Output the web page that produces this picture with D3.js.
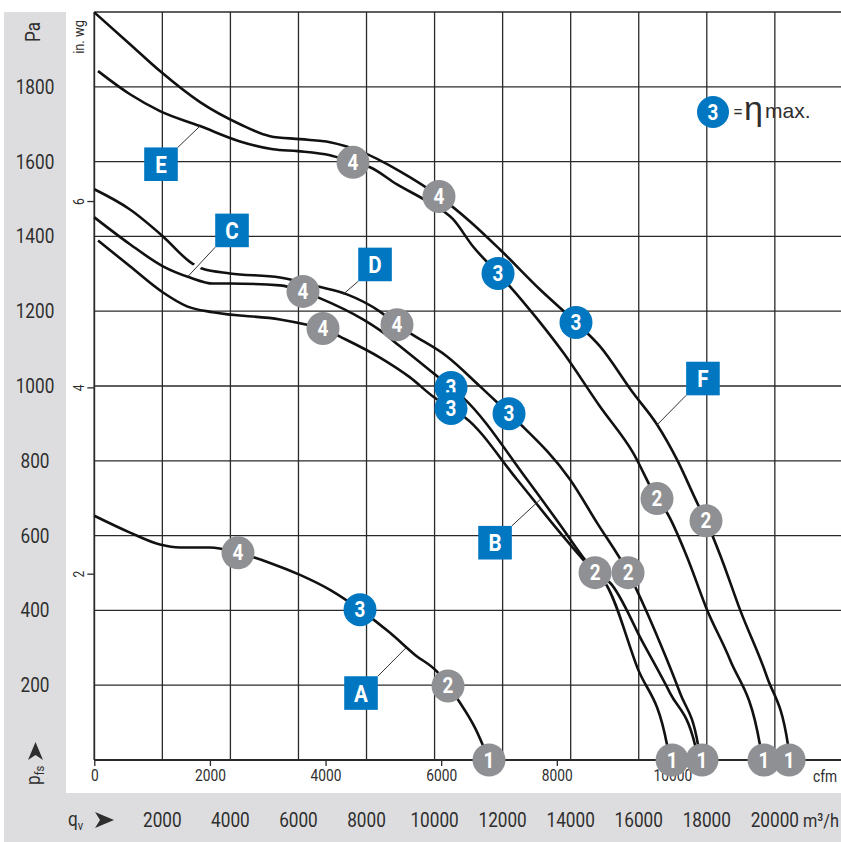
<!DOCTYPE html>
<html>
<head>
<meta charset="utf-8">
<script src="https://cdn.jsdelivr.net/npm/d3@7"></script>
<style>
  body { margin: 0; background: #fff; }
  text { font-family: "Liberation Sans Narrow", "Roboto", sans-serif; }
</style>
</head>
<body>
<div id="chart-area"></div>
<script>
const width = 841, height = 842;
const plot = {left: 94.3, right: 842.9, top: 12, bottom: 760};
const narrow = 0.86; // horizontal squeeze to mimic the condensed face

// tick values
const flowTicks = [2000, 4000, 6000, 8000, 10000, 12000, 14000, 16000, 18000, 20000];
const cfmTicks = [0, 2000, 4000, 6000, 8000, 10000];
const paTicks = [200, 400, 600, 800, 1000, 1200, 1400, 1600, 1800];
const inwgTicks = [2, 4, 6];

// curves: [qv m³/h, pfs Pa]
const curveA = [[0, 653], [1049, 608], [1931, 576], [2519, 568], [3400, 568], [4223, 554],
  [5164, 527], [6045, 495], [6927, 455], [7809, 402], [8691, 340], [9426, 281],
  [10072, 236], [10395, 198], [10748, 153], [11189, 86], [11600, 0]];
const curveB = [[110, 1389], [1049, 1320], [2019, 1250], [2724, 1213], [3488, 1197],
  [5457, 1178], [6251, 1164], [6721, 1154], [7221, 1132], [8396, 1076], [9278, 1023],
  [9954, 972], [10483, 940], [10895, 916], [12423, 750], [13687, 608], [14716, 501],
  [15010, 474], [15951, 249], [16833, 40], [16892, 0]];
const curveC = [[0, 1451], [1049, 1379], [2019, 1320], [2812, 1290], [3488, 1274],
  [3988, 1274], [5457, 1269], [6133, 1253], [6574, 1237], [7897, 1178], [8485, 1143],
  [8984, 1106], [10013, 1031], [10483, 996], [10836, 969], [12717, 750], [13687, 629],
  [14422, 535], [14716, 501], [15157, 474], [16127, 313], [16921, 179], [17655, 40], [17714, 0]];
const curveD = [[0, 1526], [1049, 1472], [2019, 1400], [2871, 1328], [3165, 1314],
  [3988, 1301], [5457, 1290], [6574, 1266], [7426, 1245], [8396, 1199], [8896, 1164],
  [9337, 1138], [10366, 1079], [11336, 999], [12188, 926], [12600, 891], [13981, 750],
  [14775, 634], [15686, 501], [16626, 313], [17214, 179], [17743, 40], [17802, 0]];
const curveE = [[110, 1842], [1049, 1780], [1931, 1735], [3107, 1695], [4282, 1654],
  [5252, 1633], [5987, 1628], [6927, 1617], [7603, 1598], [8103, 1585], [8896, 1539],
  [9778, 1494], [10542, 1446], [11130, 1373], [11865, 1301], [12218, 1266], [13011, 1180],
  [13775, 1090], [14862, 945], [15831, 822], [16537, 699], [16831, 661], [17419, 543],
  [18006, 402], [18682, 268], [19564, 40], [19623, 0]];
const curveF = [[0, 1999], [1049, 1914], [1931, 1842], [3107, 1759], [4282, 1700],
  [5164, 1668], [6045, 1660], [6927, 1652], [7809, 1628], [8984, 1574], [10130, 1507],
  [11041, 1440], [11922, 1365], [13098, 1258], [14156, 1170], [14862, 1106], [15831, 982],
  [16537, 897], [17125, 803], [17742, 683], [17977, 640], [18447, 535], [18976, 402],
  [19770, 222], [20387, 40], [20446, 0]];
const curves = [curveA, curveB, curveC, curveD, curveE, curveF];

// operating point markers: [qv, pfs, number]
const markerPoints = [
  [4223, 554, 4], [7809, 402, 3], [10395, 198, 2], [11600, 0, 1],
  [6133, 1253, 4], [10483, 996, 3],
  [6721, 1154, 4], [10483, 940, 3], [14716, 501, 2], [16980, 0, 1],
  [8896, 1164, 4], [12188, 926, 3], [15686, 501, 2], [17860, 0, 1],
  [7603, 1598, 4], [11865, 1301, 3], [16537, 699, 2], [19682, 0, 1],
  [10130, 1507, 4], [14156, 1170, 3], [17977, 640, 2], [20420, 0, 1]
];

// curve letters, box centre and leader end
const letterNames = ["A", "B", "C", "D", "E", "F"];
const letterBoxes = [[7838, 179], [11777, 581], [4047, 1416], [8250, 1325], [1960, 1593], [17887, 1020]];
const letterTargets = [[9161, 300], [13099, 696], [2754, 1293], [7310, 1245], [3107, 1695], [16538, 896]];

const blue = "#0077c0", grey = "#8f9093", band = "#dddddf", ink = "#2e2e2e";

const svg = d3.select("#chart-area").append("svg")
  .attr("width", width)
  .attr("height", height);

// condensed text helper
function ctext(parent, px, py, str, size, anchor, rot) {
  return parent.append("text")
    .attr("transform", "translate(" + px + "," + py + ")" + (rot ? " rotate(" + rot + ")" : "") + " scale(" + narrow + ",1)")
    .attr("text-anchor", anchor || "start")
    .attr("font-size", size)
    .attr("fill", ink)
    .text(str);
}

// Scales
const x = d3.scaleLinear().domain([0, 22000]).range([plot.left, plot.right]);
const xCfm = d3.scaleLinear().domain([0, 22000 / 1.699]).range([plot.left, plot.right]);
const y = d3.scaleLinear().domain([0, 2000]).range([plot.bottom, plot.top]);
const yInwg = d3.scaleLinear().domain([0, 2000 / 249.09]).range([plot.bottom, plot.top]);

// grey bands
svg.append("rect").attr("x", 4).attr("y", 12).attr("width", 62).attr("height", 830).attr("fill", band);
svg.append("rect").attr("x", 4).attr("y", 793).attr("width", 837).attr("height", 49).attr("fill", band);

// grid
const grid = svg.append("g").attr("stroke", "#2a2a2a").attr("stroke-width", 1.3);
grid.selectAll(".vgrid").data(flowTicks).enter().append("line")
  .attr("x1", d => x(d)).attr("x2", d => x(d))
  .attr("y1", plot.top).attr("y2", plot.bottom);
grid.selectAll(".hgrid").data(paTicks.concat([2000])).enter().append("line")
  .attr("x1", plot.left).attr("x2", width)
  .attr("y1", d => y(d)).attr("y2", d => y(d));
grid.append("line").attr("x1", plot.left).attr("x2", plot.left)
  .attr("y1", plot.top).attr("y2", plot.bottom).attr("stroke-width", 1.8);
grid.append("line").attr("x1", plot.left).attr("x2", width)
  .attr("y1", plot.bottom).attr("y2", plot.bottom).attr("stroke-width", 1.8);

// Pa labels
const paG = svg.append("g");
paTicks.forEach(d => ctext(paG, 35, y(d) + 7, d, 20, "middle"));
ctext(svg, 40, 32, "Pa", 20, "middle", -90);

// p_fs with arrow
svg.append("path").attr("d", "M35.5,742 L43,760 L35.5,755 L28,760 Z").attr("fill", ink);
const pfs = ctext(svg, 40, 785, "", 20, "start", -90);
pfs.append("tspan").text("p");
pfs.append("tspan").attr("font-size", 13).attr("dy", 4).text("fs");

// in. wg axis
const yInwgAxis = d3.axisLeft(yInwg).tickValues(inwgTicks).tickSize(7).tickFormat(d3.format("d"));
const inwgG = svg.append("g").attr("transform", "translate(" + plot.left + ",0)").call(yInwgAxis);
inwgG.select(".domain").remove();
inwgG.selectAll("line").attr("stroke", "#2a2a2a").attr("stroke-width", 1.3);
inwgG.selectAll("text").attr("x", null).attr("dy", null)
  .attr("transform", "translate(-10,0) rotate(-90) scale(" + narrow + ",1)")
  .attr("text-anchor", "middle").attr("font-size", 14).attr("fill", ink)
  .style("font-family", "'Liberation Sans Narrow', 'Roboto', sans-serif");
ctext(svg, 84, 37, "in. wg", 15, "middle", -90);

// cfm axis
const cfmAxis = d3.axisBottom(xCfm).tickValues(cfmTicks).tickSize(6).tickFormat(d3.format("d"));
const cfmG = svg.append("g").attr("transform", "translate(0," + plot.bottom + ")").call(cfmAxis);
cfmG.select(".domain").remove();
cfmG.selectAll("line").attr("stroke", "#2a2a2a").attr("stroke-width", 1.3);
cfmG.selectAll("text").attr("y", 10).attr("dy", "0.71em").attr("font-size", 16).attr("fill", ink)
  .attr("transform", "scale(" + narrow + ",1)")
  .style("font-family", "'Liberation Sans Narrow', 'Roboto', sans-serif");
ctext(svg, 813, 782, "cfm", 16, "start");

// m³/h labels
const flowG = svg.append("g");
flowTicks.forEach(d => ctext(flowG, x(d), 827, d, 20, "middle"));
ctext(svg, 803, 827, "m³/h", 19, "start");
const qv = ctext(svg, 68, 826, "", 20, "start");
qv.append("tspan").text("q");
qv.append("tspan").attr("font-size", 13).attr("dy", 4).text("v");
svg.append("path").attr("d", "M114,820 L95,812 L100,820 L95,828 Z").attr("fill", ink);

// curves
const line = d3.line()
  .x(d => x(d[0]))
  .y(d => y(d[1]))
  .curve(d3.curveMonotoneX);

svg.append("g").selectAll("path").data(curves).enter().append("path")
  .attr("d", line)
  .attr("fill", "none")
  .attr("stroke", "#111")
  .attr("stroke-width", 2.6);

// letter boxes with leaders
const half = 16.8;
letterNames.forEach((name, i) => {
  const cx = x(letterBoxes[i][0]), cy = y(letterBoxes[i][1]);
  const tx = x(letterTargets[i][0]), ty = y(letterTargets[i][1]);
  const sx = cx + Math.sign(tx - cx) * half, sy = cy + Math.sign(ty - cy) * half;
  if (name === "C") {
    // white gap where the leader crosses the curve above
    svg.append("line")
      .attr("x1", sx + (tx - sx) * 0.3).attr("y1", sy + (ty - sy) * 0.3)
      .attr("x2", sx + (tx - sx) * 0.82).attr("y2", sy + (ty - sy) * 0.82)
      .attr("stroke", "#fff").attr("stroke-width", 7);
  }
  svg.append("line")
    .attr("x1", sx).attr("y1", sy).attr("x2", tx).attr("y2", ty)
    .attr("stroke", "#333").attr("stroke-width", 1);
  svg.append("rect")
    .attr("x", cx - half).attr("y", cy - half)
    .attr("width", half * 2).attr("height", half * 2)
    .attr("fill", blue);
  ctext(svg, cx, cy + 8.5, name, 24, "middle")
    .attr("font-weight", "bold").attr("fill", "#fff");
});

// markers
const mk = svg.append("g").selectAll("g").data(markerPoints).enter().append("g")
  .attr("transform", d => "translate(" + x(d[0]) + "," + y(d[1]) + ")");
mk.append("circle").attr("r", 16.5).attr("fill", d => d[2] === 3 ? blue : grey);
mk.append("text").attr("y", 7.5).attr("text-anchor", "middle")
  .attr("transform", "scale(" + narrow + ",1)")
  .attr("font-size", 22).attr("font-weight", "bold").attr("fill", "#fff")
  .text(d => d[2]);

// legend
const lg = svg.append("g").attr("transform", "translate(713,112)");
lg.append("circle").attr("r", 16).attr("fill", blue);
lg.append("text").attr("y", 7.5).attr("text-anchor", "middle")
  .attr("transform", "scale(" + narrow + ",1)")
  .attr("font-size", 22).attr("font-weight", "bold").attr("fill", "#fff").text("3");
svg.append("text").attr("x", 733).attr("y", 118).attr("font-size", 18).attr("fill", ink).text("=");
svg.append("text").attr("x", 744).attr("y", 120).attr("font-size", 34).attr("fill", ink)
  .style("font-family", "'Liberation Sans', sans-serif").text("η");
svg.append("text").attr("x", 765).attr("y", 118).attr("font-size", 21).attr("fill", ink)
  .style("font-family", "'Liberation Sans', sans-serif").text("max.");
</script>
</body>
</html>
